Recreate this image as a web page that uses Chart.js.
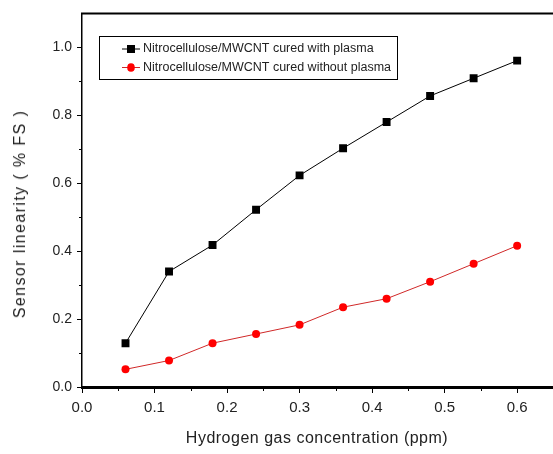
<!DOCTYPE html>
<html><head><meta charset="utf-8">
<script src="https://cdn.jsdelivr.net/npm/chart.js@4/dist/chart.umd.min.js"></script>
<style>
html,body{margin:0;padding:0;background:#fff;overflow:hidden}
#wrap{position:relative;width:553px;height:454px;overflow:hidden}
canvas{position:absolute;left:0;top:0}
.yt{position:absolute;left:20px;top:214px;transform:translate(-50%,-50%) rotate(-90deg);font:16px "Liberation Sans",Arial,sans-serif;letter-spacing:1.4px;white-space:nowrap;color:#222}
.xt{position:absolute;left:317px;top:438px;transform:translate(-50%,-50%);font:16px "Liberation Sans",Arial,sans-serif;letter-spacing:0.5px;white-space:nowrap;color:#222}
</style></head>
<body><div id="wrap"><canvas id="c" width="559" height="454"></canvas>
<div class="yt">Sensor linearity ( % FS )</div>
<div class="xt">Hydrogen gas concentration (ppm)</div></div>
<script>
const concentrations=[0.06,0.12,0.18,0.24,0.30,0.36,0.42,0.48,0.54,0.60];
const withPlasma=[0.129,0.340,0.418,0.522,0.623,0.703,0.780,0.857,0.909,0.961];
const withoutPlasma=[0.052,0.078,0.129,0.156,0.183,0.235,0.260,0.310,0.363,0.416];
const seriesLabels=['Nitrocellulose/MWCNT cured with plasma','Nitrocellulose/MWCNT cured without plasma'];
const xMajorTicks=[0,0.1,0.2,0.3,0.4,0.5,0.6];
const xMinorTicks=[0.05,0.15,0.25,0.35,0.45,0.55];
const yMajorTicks=[0,0.2,0.4,0.6,0.8,1.0];
const yMinorTicks=[0.1,0.3,0.5,0.7,0.9];

const narrow='"Liberation Sans Narrow","Liberation Sans",Arial,sans-serif';

const framePlugin={
  id:'frame',
  afterDraw(chart){
    const ctx=chart.ctx, a=chart.chartArea, xs=chart.scales.x, ys=chart.scales.y;
    ctx.save();
    ctx.strokeStyle='#000';
    ctx.lineWidth=2;
    ctx.beginPath();ctx.moveTo(a.left-1,a.top);ctx.lineTo(a.right,a.top);ctx.stroke();
    ctx.lineWidth=1;
    xMinorTicks.forEach(v=>{const px=Math.round(xs.getPixelForValue(v))+0.5;ctx.beginPath();ctx.moveTo(px,a.bottom);ctx.lineTo(px,a.bottom+4);ctx.stroke();});
    yMinorTicks.forEach(v=>{const py=Math.round(ys.getPixelForValue(v))+0.5;ctx.beginPath();ctx.moveTo(a.left,py);ctx.lineTo(a.left-3,py);ctx.stroke();});
    // legend
    const bx=99.5,by=36.5,bw=298,bh=43;
    ctx.lineWidth=1;ctx.strokeStyle='#000';
    ctx.strokeRect(bx,by,bw,bh);
    const rows=[49,67.5];
    chart.data.datasets.forEach((ds,i)=>{
      const y=rows[i];
      ctx.strokeStyle=ds.borderColor;ctx.lineWidth=1;
      ctx.beginPath();ctx.moveTo(122,y);ctx.lineTo(140,y);ctx.stroke();
      ctx.fillStyle=ds.backgroundColor;
      if(ds.pointStyle==='rect'){ctx.fillRect(127,y-4,8,8);}
      else{ctx.beginPath();ctx.ellipse(131,y,3.8,4.3,0,0,Math.PI*2);ctx.fill();}
      ctx.fillStyle='#222';
      ctx.font='12.5px '+narrow;
      ctx.textBaseline='middle';ctx.textAlign='left';
      ctx.fillText(ds.label,143,y);
    });
    ctx.restore();
  }
};

new Chart(document.getElementById('c'),{
  type:'line',
  data:{datasets:[
    {label:seriesLabels[0],data:concentrations.map((x,i)=>({x,y:withPlasma[i]})),borderColor:'#000',backgroundColor:'#000',borderWidth:1,pointStyle:'rect',pointRadius:5.6,pointBorderWidth:0,tension:0},
    {label:seriesLabels[1],data:concentrations.map((x,i)=>({x,y:withoutPlasma[i]})),borderColor:'#d02828',backgroundColor:'#ff0000',borderWidth:1,pointStyle:'circle',pointRadius:4,pointBorderWidth:0,tension:0}
  ]},
  options:{
    responsive:false,animation:false,devicePixelRatio:1,
    layout:{padding:{top:9,right:0,left:0,bottom:0}},
    plugins:{legend:{display:false},tooltip:{enabled:false}},
    scales:{
      x:{type:'linear',min:0,max:0.65,
        afterBuildTicks:s=>{s.ticks=xMajorTicks.map(v=>({value:v}));},
        afterFit:s=>{s.height=67;},
        border:{color:'#000',width:3},
        grid:{drawOnChartArea:false,tickLength:6,tickColor:'#000',tickWidth:1},
        ticks:{font:{family:narrow,size:15},color:'#222',padding:6,maxRotation:0,autoSkip:false,callback:v=>Number(v).toFixed(1)}},
      y:{type:'linear',min:0,max:1.1,
        afterBuildTicks:s=>{s.ticks=yMajorTicks.map(v=>({value:v}));},
        afterFit:s=>{s.width=82;},
        border:{color:'#000',width:1.5},
        grid:{drawOnChartArea:false,tickLength:5,tickColor:'#000',tickWidth:1},
        ticks:{font:{family:narrow,size:14},color:'#222',padding:5,autoSkip:false,callback:v=>Number(v).toFixed(1)}}
    }
  },
  plugins:[framePlugin]
});
</script>
</body></html>
